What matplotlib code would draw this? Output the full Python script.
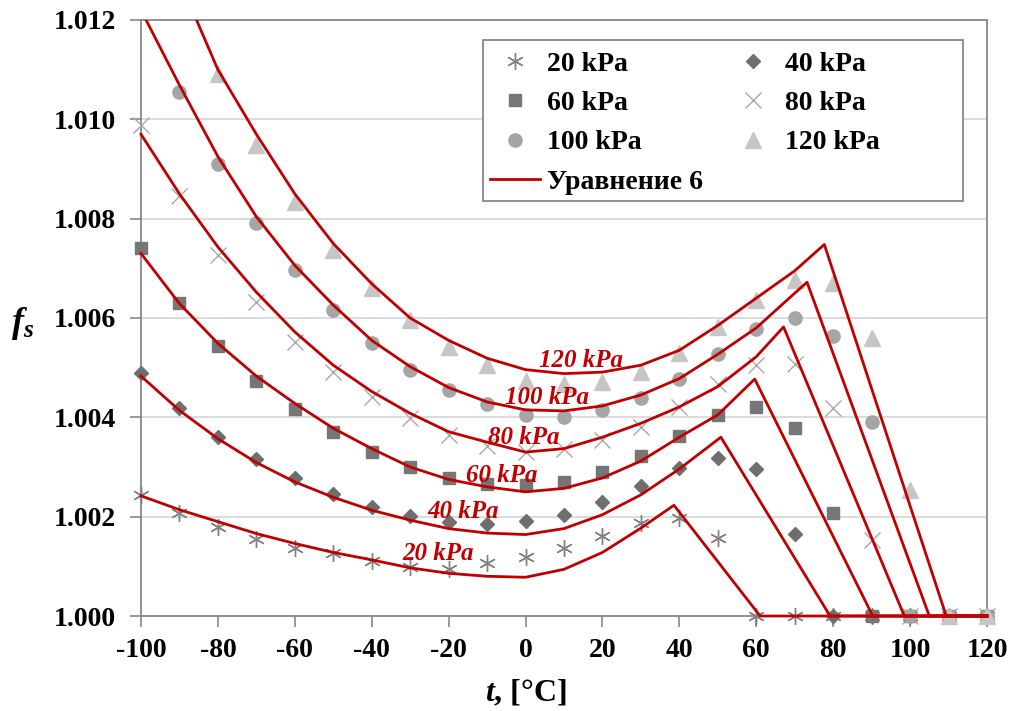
import numpy as np
import matplotlib
matplotlib.use('Agg')
import matplotlib.pyplot as plt
from matplotlib.patches import Rectangle
from matplotlib.transforms import Bbox, TransformedBbox

plt.rcParams['font.family'] = ['Liberation Serif', 'DejaVu Serif']
plt.rcParams['font.weight'] = 'bold'
plt.rcParams['axes.unicode_minus'] = False
plt.rcParams['mathtext.fontset'] = 'custom'
plt.rcParams['mathtext.it'] = 'Liberation Serif:italic:bold'
plt.rcParams['mathtext.rm'] = 'Liberation Serif:bold'

# измерения (точки)
t_pts = np.arange(-100, 121, 10)
f20 = [1.00244, 1.00207, 1.0018, 1.00156, 1.00137, 1.00126, 1.0011, 1.00099, 1.00095, 1.00106, 1.00118, 1.00136,
       1.00162, 1.00188, 1.00198, 1.00157, 1.0, 1.0, 1.0, 1.0, 1.0, 1.0, 1.0]
f40 = [1.0049, 1.00419, 1.0036, 1.00316, 1.00277, 1.00245, 1.0022, 1.00201, 1.0019, 1.00186, 1.00191, 1.00204,
       1.0023, 1.00262, 1.00298, 1.00318, 1.00296, 1.00165, 1.0, 1.0, 1.0, 1.0, 1.0]
f60 = [1.0074, 1.00631, 1.00544, 1.00474, 1.00417, 1.0037, 1.0033, 1.003, 1.00278, 1.00265, 1.00263, 1.0027,
       1.0029, 1.00322, 1.00362, 1.00404, 1.00421, 1.00379, 1.00207, 1.0, 1.0, 1.0, 1.0]
f80 = [1.00988, 1.00845, 1.00727, 1.00633, 1.00552, 1.00491, 1.0044, 1.00398, 1.00364, 1.00342, 1.0033, 1.00336,
       1.00354, 1.0038, 1.00421, 1.00468, 1.00505, 1.00508, 1.00418, 1.00153, 1.0, 1.0, 1.0]
f100 = [1.01055, 1.0091, 1.00792, 1.00696, 1.00617, 1.0055, 1.00496, 1.00456, 1.00427, 1.00404, 1.004, 1.00414,
        1.00438, 1.00477, 1.00527, 1.00577, 1.006, 1.00563, 1.0039, 1.0, 1.0, 1.0]  # от -90
f120 = [1.01092, 1.00949, 1.00833, 1.00736, 1.0066, 1.00595, 1.00541, 1.00506, 1.00474, 1.00468, 1.00472, 1.00491,
        1.00529, 1.00581, 1.00636, 1.00676, 1.0067, 1.0056, 1.00253, 1.0, 1.0]  # от -80

# Уравнение 6 (кривые)
ct20 = [-100, -90, -80, -70, -60, -50, -40, -30, -20, -10, 0, 10, 20, 30, 38.6, 61, 120]
cf20 = [1.00242, 1.00214, 1.0019, 1.00166, 1.00146, 1.00128, 1.00113, 1.00097, 1.00086, 1.0008, 1.00078, 1.00094,
        1.00128, 1.00177, 1.00223, 1.0, 1.0]
ct40 = [-100, -90, -80, -70, -60, -50, -40, -30, -20, -10, 0, 10, 20, 30, 40, 50.8, 79.2, 120]
cf40 = [1.00483, 1.00414, 1.00357, 1.00309, 1.0027, 1.00239, 1.00213, 1.00193, 1.00176, 1.00167, 1.00164, 1.00176,
        1.00204, 1.00244, 1.00296, 1.0036, 1.0, 1.0]
ct60 = [-100, -90, -80, -70, -60, -50, -40, -30, -20, -10, 0, 10, 20, 30, 40, 50, 59.6, 90.3, 120]
cf60 = [1.0073, 1.00629, 1.00549, 1.00483, 1.00428, 1.00378, 1.00337, 1.003, 1.00275, 1.0026, 1.0025, 1.00257,
        1.00278, 1.00312, 1.0036, 1.00405, 1.00477, 1.0, 1.0]
ct80 = [-100, -90, -80, -70, -60, -50, -40, -30, -20, -10, 0, 10, 20, 30, 40, 50, 60, 67.1, 98.5, 120]
cf80 = [1.0097, 1.0085, 1.00743, 1.00652, 1.00572, 1.00505, 1.00452, 1.00408, 1.00371, 1.0035, 1.0033, 1.00337,
        1.0036, 1.00388, 1.00421, 1.00462, 1.00522, 1.00582, 1.0, 1.0]
ct100 = [-100, -90, -80, -70, -60, -50, -40, -30, -20, -10, 0, 10, 20, 30, 40, 50, 60, 70, 73.2, 105, 120]
cf100 = [1.0122, 1.01069, 1.00925, 1.00804, 1.00706, 1.00626, 1.00555, 1.00502, 1.0046, 1.00431, 1.00415, 1.00413,
         1.00423, 1.00445, 1.00478, 1.00527, 1.0058, 1.0065, 1.00672, 1.0, 1.0]
ct120 = [-90, -80, -70, -60, -50, -40, -30, -20, -10, 0, 10, 20, 30, 40, 50, 60, 70, 77.7, 109.4, 120]
cf120 = [1.0128, 1.011, 1.0097, 1.0085, 1.0075, 1.00669, 1.006, 1.00555, 1.00519, 1.00496, 1.00488, 1.00491,
         1.00505, 1.00535, 1.00585, 1.0064, 1.00695, 1.00748, 1.0, 1.0]

curve_labels = ['20 kPa', '40 kPa', '60 kPa', '80 kPa', '100 kPa', '120 kPa']
label_pos = [(-22.7, 1.00125), (-16.1, 1.0021), (-6.1, 1.00283), (-0.5, 1.00359), (5.6, 1.0044), (14.3, 1.00515)]

red = '#c00000'

fig = plt.figure(figsize=(10.12, 7.11), dpi=100)
ax = fig.add_axes([0.1393, 0.1336, 0.836, 0.8383])

h20, = ax.plot(t_pts, f20, ls='none', marker=(6, 2, 0), ms=12, mew=1.0, color='#808080', clip_on=False, zorder=4)
h40, = ax.plot(t_pts, f40, ls='none', marker='D', ms=7.5, color='#6e6e6e', clip_on=False, zorder=4)
h60, = ax.plot(t_pts, f60, ls='none', marker='s', ms=9, color='#767676', clip_on=False, zorder=4)
h80, = ax.plot(t_pts, f80, ls='none', marker='x', ms=12, mew=1.0, color='#a9a9a9', clip_on=False, zorder=4)
h100, = ax.plot(t_pts[1:], f100, ls='none', marker='o', ms=9.5, color='#a5a5a5', clip_on=False, zorder=4)
h120, = ax.plot(t_pts[2:], f120, ls='none', marker='^', ms=11, color='#c6c6c6', clip_on=False, zorder=4)

clip = TransformedBbox(Bbox([[-0.01, -0.02], [1.01, 1.0]]), ax.transAxes)
heq = None
for ct, cf in [(ct20, cf20), (ct40, cf40), (ct60, cf60), (ct80, cf80), (ct100, cf100), (ct120, cf120)]:
    ln, = ax.plot(ct, cf, color=red, lw=2.0, zorder=5, solid_joinstyle='round')
    ln.set_clip_box(clip)
    heq = ln

for lab, (x, y) in zip(curve_labels, label_pos):
    ax.text(x, y, lab, color=red, fontsize=18, fontstyle='italic', fontweight='bold',
            ha='center', va='center', zorder=6)

ax.set_xlim(-100, 120)
ax.set_ylim(1.000, 1.012)
ax.set_xticks(np.arange(-100, 121, 20))
ax.set_yticks(np.arange(1.000, 1.0121, 0.002))
ax.yaxis.set_major_formatter(matplotlib.ticker.FormatStrFormatter('%.3f'))
ax.tick_params(axis='both', labelsize=20, direction='out', length=8, width=1.2, color='#888888')
ax.tick_params(axis='y', pad=10)
ax.tick_params(axis='x', pad=8)
for lbl in ax.get_xticklabels() + ax.get_yticklabels():
    lbl.set_fontweight('bold')
ax.grid(axis='y', color='#d9d9d9', lw=1.3)
ax.set_axisbelow(True)
for s in ax.spines.values():
    s.set_color('#888888')
    s.set_linewidth(1.3)

ax.set_xlabel('$t$, [°C]', fontsize=23, fontweight='bold')
ax.xaxis.set_label_coords(0.455, -0.105)
ax.set_ylabel('$f_s$', fontsize=26, rotation=0, va='center', ha='center')
ax.yaxis.set_label_coords(-0.14, 0.49)

# рамка легенды (шире, чем сама легенда)
ax.add_patch(Rectangle((0.4043, 0.697), 0.5674, 0.269, transform=ax.transAxes, fill=True,
                       facecolor='white', edgecolor='#888888', lw=1.3, zorder=6, clip_on=False))

handles = [h20, h60, h100, heq, h40, h80, h120]
labels = ['20 kPa', '60 kPa', '100 kPa', 'Уравнение 6', '40 kPa', '80 kPa', '120 kPa']
leg = ax.legend(handles, labels, ncol=2, loc='upper left', bbox_to_anchor=(0.3995, 0.966),
                borderaxespad=0, fontsize=20, frameon=False, handlelength=1.8, handletextpad=0.25,
                columnspacing=0.9, labelspacing=0.5, borderpad=0.4)
leg.set_zorder(7)
for txt in leg.get_texts():
    txt.set_fontweight('bold')

fig.savefig('out.png', dpi=100)
